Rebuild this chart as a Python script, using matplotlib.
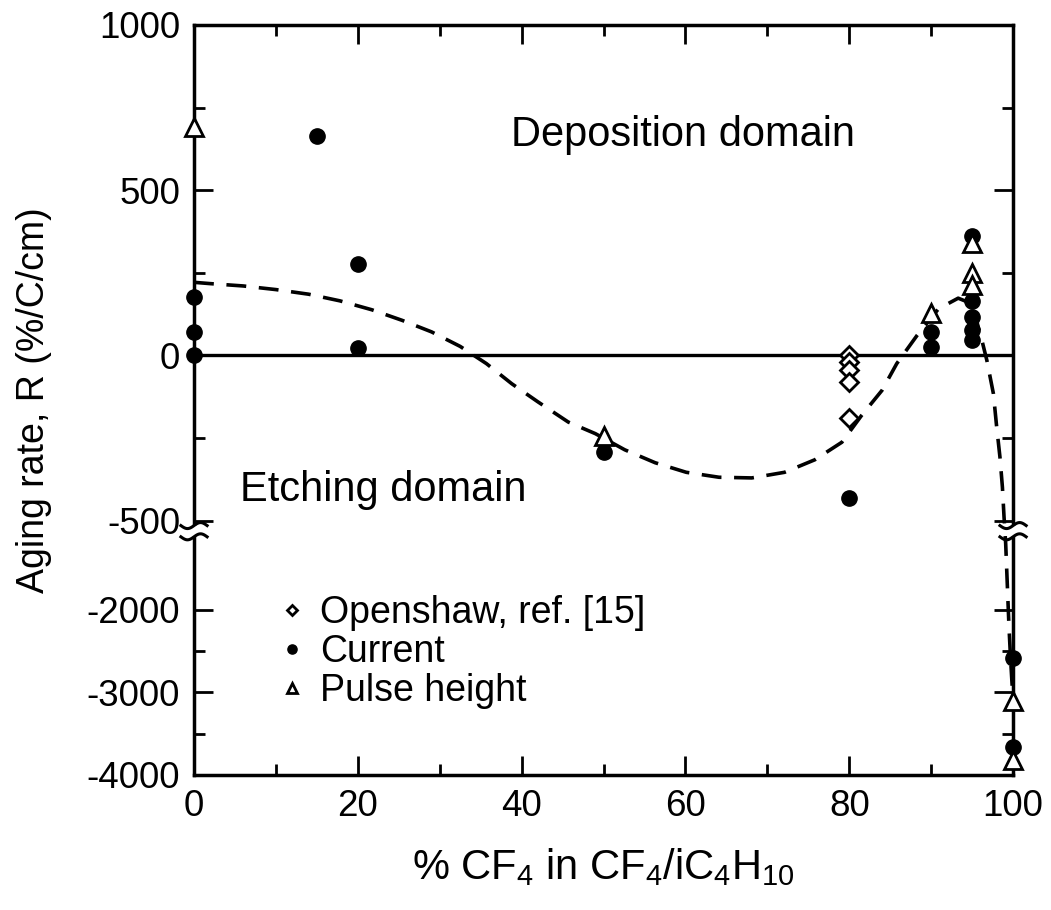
import numpy as np
import matplotlib.pyplot as plt
from matplotlib.ticker import FixedLocator, MultipleLocator

plt.rcParams['font.family'] = ['Liberation Sans', 'DejaVu Sans']
plt.rcParams['mathtext.fontset'] = 'custom'
plt.rcParams['mathtext.rm'] = 'Liberation Sans'
plt.rcParams['mathtext.default'] = 'regular'
plt.rcParams['axes.unicode_minus'] = False

# Openshaw, ref. [15]
x_open = [80, 80, 80, 80, 80]
y_open = [0, -21, -45, -80, -191]

# current measurements
x_cur = [0, 0, 0, 15, 20, 20, 50, 80, 90, 90, 95, 95, 95, 95, 95, 100, 100]
y_cur = [176, 70, 0, 664, 276, 21, -294, -433, 70, 24, 361, 164, 115, 76, 45, -2580, -3660]

# pulse height measurements
x_ph = [0, 50, 90, 95, 95, 95, 100, 100]
y_ph = [690, -245, 127, 339, 248, 212, -3100, -3820]

# dashed guide curve
x_fit = [0, 2, 6, 10, 14, 17.8, 21.7, 25.4, 29, 32.5, 35.7, 38.8, 42, 45.7, 49, 52.6,
         56.3, 60.1, 64.1, 68.1, 72.1, 75.8, 79.1, 81.5, 84, 85.8, 88.3, 90.9, 93.3,
         94.6, 95.6, 96.3, 96.8, 97.6, 98, 98.4, 98.7, 98.9, 99.1, 99.3, 99.5, 99.7, 100]
y_fit = [221, 217, 210, 199, 185, 165, 138, 106, 71, 27, -25, -86, -141, -202, -237, -286,
         -325, -354, -369, -371, -354, -316, -263, -182, -106, -25, 61, 141, 173,
         160, 100, 35, -15, -116, -217, -308, -399, -490, -1200, -1700, -2200, -2600, -3100]

# broken axis: values between CUT_HI and CUT_LO are squeezed out,
# the lower part is compressed by SQUEEZE
CUT_HI, CUT_LO, SQUEEZE = -545, -1100, 0.25


def forward(y):
    y = np.asarray(y, dtype=float)
    low = CUT_HI + (y - CUT_LO) * SQUEEZE
    return np.where(y >= CUT_HI, y, np.where(y <= CUT_LO, low, CUT_HI))


def inverse(t):
    t = np.asarray(t, dtype=float)
    return np.where(t >= CUT_HI, t, (t - CUT_HI) / SQUEEZE + CUT_LO)


fig = plt.figure(figsize=(10.51, 9.10), dpi=100)
ax = fig.add_axes([0.1846, 0.1484, 0.7793, 0.8242])
ax.set_yscale('function', functions=(forward, inverse))
ax.set_xlim(0, 100)
ax.set_ylim(-4000, 1000)

ax.axhline(0, color='black', lw=2.4, zorder=1)
ax.plot(x_fit, y_fit, color='black', lw=2.6, ls=(0, (5.5, 3.5)), zorder=2)

ax.plot(x_open, y_open, ls='none', marker='D', ms=9, mfc='white', mec='black',
        mew=2, clip_on=False, zorder=4, label='Openshaw, ref. [15]')
ax.plot(x_cur, y_cur, ls='none', marker='o', ms=11, mfc='black', mec='black',
        clip_on=False, zorder=4, label='Current')
ax.plot(x_ph, y_ph, ls='none', marker='^', ms=13, mfc='white', mec='black',
        mew=2, clip_on=False, zorder=5, label='Pulse height')

ax.text(59.7, 667, 'Deposition domain', fontsize=30, ha='center', va='center')
ax.text(5.6, -409, 'Etching domain', fontsize=30, ha='left', va='center')

leg = ax.legend(loc='upper left', bbox_to_anchor=(0.085, 0.26), frameon=False,
                fontsize=27, markerscale=0.6, handlelength=0.7, handletextpad=0.4,
                labelspacing=0.08, borderaxespad=0)

ax.xaxis.set_major_locator(MultipleLocator(20))
ax.xaxis.set_minor_locator(MultipleLocator(10))
ax.yaxis.set_major_locator(FixedLocator([1000, 500, 0, -500, -2000, -3000, -4000]))
ax.yaxis.set_minor_locator(FixedLocator([750, 250, -250, -2500, -3500]))
ax.tick_params(which='both', direction='in', top=True, right=True, width=2,
               labelsize=26.5, pad=10)
ax.tick_params(which='major', length=14)
ax.tick_params(which='minor', length=8)
for s in ax.spines.values():
    s.set_linewidth(2.5)

ax.set_xlabel(r'% CF$_4$ in CF$_4$/iC$_4$H$_{10}$', fontsize=30, labelpad=16)
ax.set_ylabel('Aging rate, R (%/C/cm)', fontsize=27, labelpad=25)

# break marks on both vertical spines
ybrk = 0.325
wx = np.linspace(-0.016, 0.016, 40)
wy = 0.004 * np.sin(wx / 0.016 * np.pi)
for xs in (0, 1):
    ax.fill_between(xs + wx, ybrk - 0.0065, ybrk + 0.0065, color='white',
                    transform=ax.transAxes, clip_on=False, zorder=6, lw=0)
    for dy in (-0.0075, 0.0075):
        ax.plot(xs + wx, ybrk + dy + wy, color='black', lw=2.2,
                transform=ax.transAxes, clip_on=False, zorder=7)

plt.savefig('out.png', dpi=100)
